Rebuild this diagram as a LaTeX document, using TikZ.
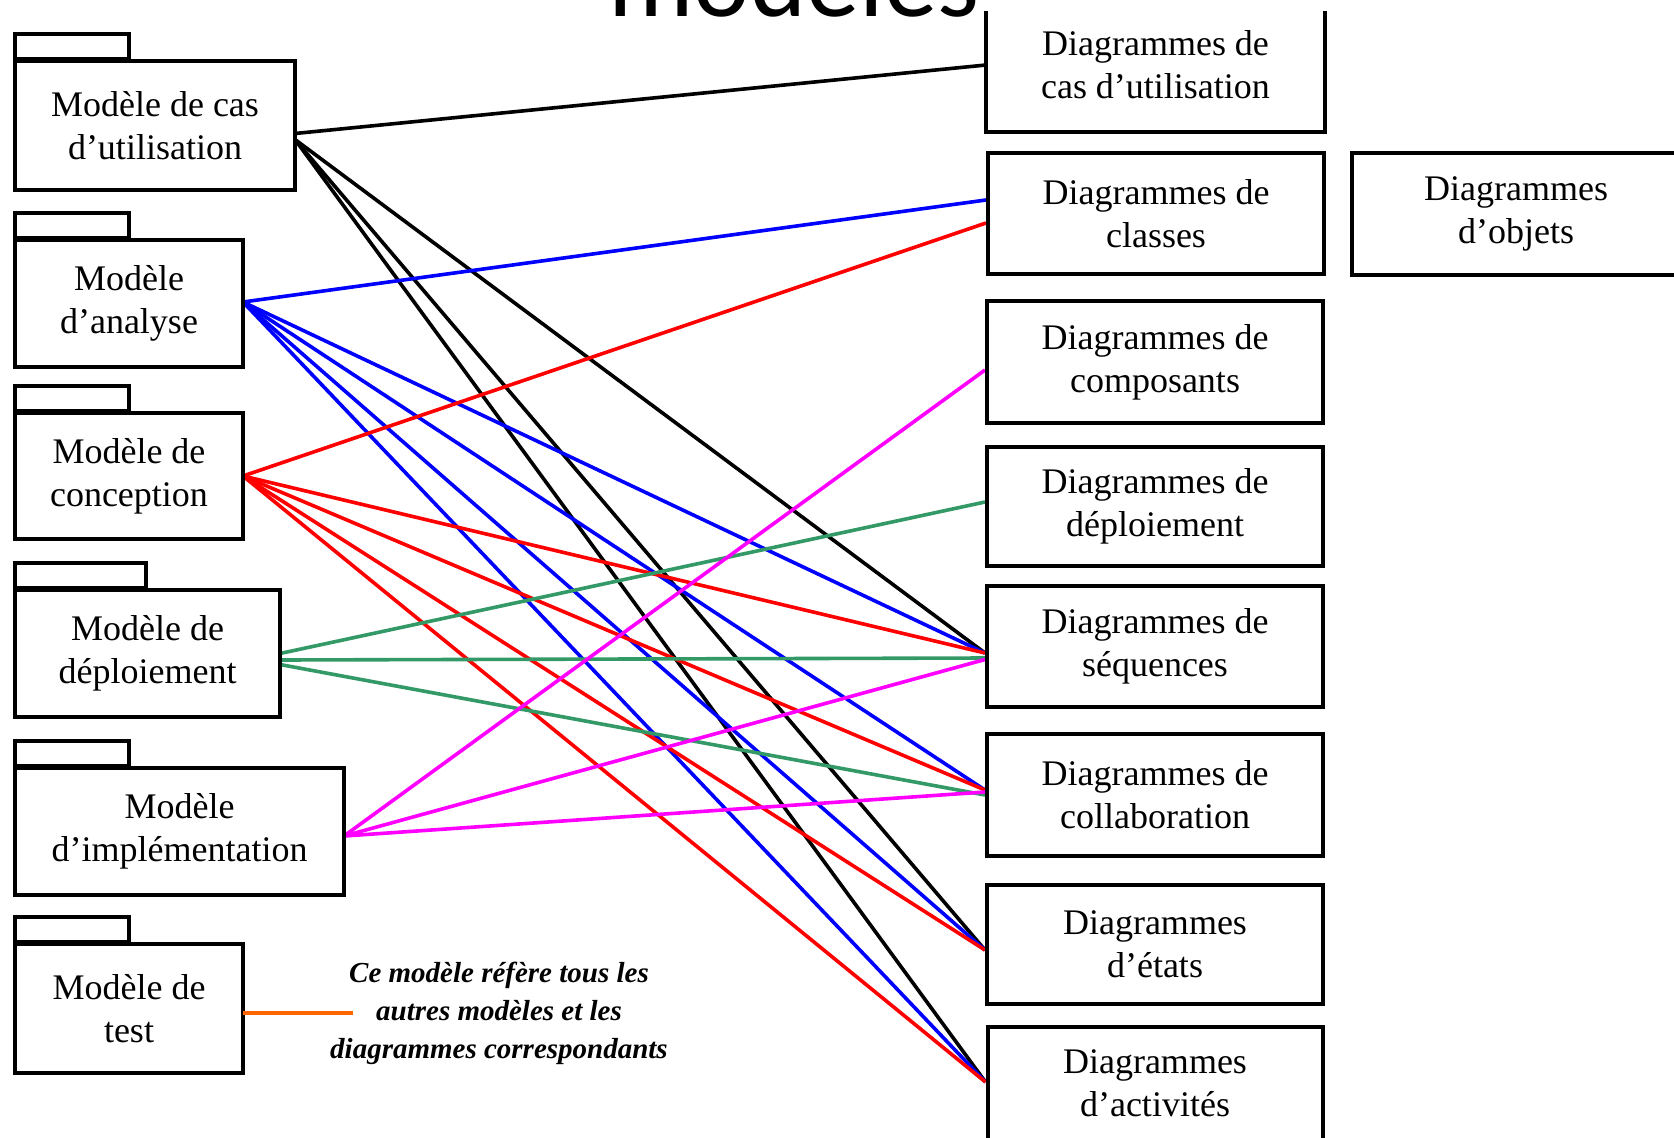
\documentclass[tikz,border=0pt]{standalone}
\usepackage{fontspec}
\setmainfont{Liberation Serif}
\newfontfamily\titlefont{Carlito}
\definecolor{lnblue}{RGB}{0,0,255}
\definecolor{lnred}{RGB}{255,0,0}
\definecolor{lngreen}{RGB}{51,153,102}
\definecolor{lnmag}{RGB}{255,0,255}
\definecolor{lnorange}{RGB}{255,102,0}
\begin{document}
\begin{tikzpicture}[x=1pt,y=-1pt,
  boxtext/.style={font=\fontsize{36}{43}\selectfont, align=center, inner sep=0pt},
  pkg/.style={boxtext, draw, line width=4pt, fill=white},
  diagbox/.style={boxtext, draw, line width=4pt, fill=white, minimum width=336pt},
  tab/.style={draw, line width=4pt, fill=white},
  lk/.style={line width=3.6pt},
  bk/.style={lk, black},
  bl/.style={lk, lnblue},
  rd/.style={lk, lnred},
  gn/.style={lk, lngreen},
  mg/.style={lk, lnmag},
  og/.style={line width=4pt, lnorange},
  note/.style={font=\bfseries\itshape\fontsize{29}{38}\selectfont, align=center, inner sep=0pt}]

\useasboundingbox (0,0) rectangle (1674,1138);
\clip (0,0) rectangle (1674,1138);
\fill[white] (0,0) rectangle (1674,1138);

% title, partly above the page edge
\node[font=\titlefont\fontsize{107}{107}\selectfont, anchor=base west, inner sep=0pt] (title) at (608,16) {modèles};

% model packages (positions only; drawn after the links)
\path
  (155,125.5)  node[pkg, minimum width=276pt, minimum height=125pt, opacity=0] (m1) {}
  (129,303.5)  node[pkg, minimum width=224pt, minimum height=123pt, opacity=0] (m2) {}
  (129,476)    node[pkg, minimum width=224pt, minimum height=122pt, opacity=0] (m3) {}
  (147.5,653.5) node[pkg, minimum width=261pt, minimum height=123pt, opacity=0] (m4) {}
  (179.5,831.5) node[pkg, minimum width=325pt, minimum height=123pt, opacity=0] (m5) {}
  (129,1008.5) node[pkg, minimum width=224pt, minimum height=125pt, opacity=0] (m6) {};

% diagram boxes (positions only)
\path
  (1155.5,65)  node[diagbox, minimum width=335pt, minimum height=130pt, opacity=0] (dcu) {}
  (1156,213.5) node[diagbox, minimum height=121pt, opacity=0] (dcl) {}
  (1155,362)   node[diagbox, minimum height=122pt, opacity=0] (dco) {}
  (1155,506.5) node[diagbox, minimum height=119pt, opacity=0] (ddp) {}
  (1155,646.5) node[diagbox, minimum height=121pt, opacity=0] (dsq) {}
  (1155,795)   node[diagbox, minimum height=122pt, opacity=0] (dcb) {}
  (1155,944.5) node[diagbox, minimum height=119pt, opacity=0] (det) {}
  (1155,1083.5) node[diagbox, minimum width=335pt, minimum height=113pt, opacity=0] (dac) {};

% links from the use case model
\draw[bk] ([yshift=-8pt]m1.east) -- (dcu.west);
\draw[bk] ([yshift=-14pt]m1.east) -- ([yshift=-6.5pt]dsq.west);
\draw[bk] ([yshift=-14pt]m1.east) -- ([yshift=-5.5pt]det.west);
\draw[bk] ([yshift=-14pt]m1.east) -- ([yshift=1.5pt]dac.west);

% links from the analysis model
\draw[bl] ([yshift=1.5pt]m2.east) -- ([yshift=13.5pt]dcl.west);
\draw[bl] ([yshift=1.5pt]m2.east) -- ([yshift=-6.5pt]dsq.west);
\draw[bl] ([yshift=1.5pt]m2.east) -- ([yshift=5pt]dcb.west);
\draw[bl] ([yshift=1.5pt]m2.east) -- ([yshift=-5.5pt]det.west);
\draw[bl] ([yshift=1.5pt]m2.east) -- ([yshift=1.5pt]dac.west);

% links from the design model
\draw[rd] (m3.east) -- ([yshift=-9.5pt]dcl.west);
\draw[rd] (m3.east) -- ([yshift=-6.5pt]dsq.west);
\draw[rd] (m3.east) -- ([yshift=5pt]dcb.west);
\draw[rd] (m3.east) -- ([yshift=-5.5pt]det.west);
\draw[rd] (m3.east) -- ([yshift=1.5pt]dac.west);

% links from the deployment model
\draw[gn] (m4.east) -- ([yshift=4.5pt]ddp.west);
\draw[gn] ([yshift=-6.5pt]m4.east) -- ([yshift=-11.5pt]dsq.west);
\draw[gn] ([yshift=-11pt]m4.east) -- (dcb.west);

% links from the implementation model
\draw[mg] ([yshift=-4.5pt]m5.east) -- ([yshift=-8pt]dco.west);
\draw[mg] ([yshift=-4.5pt]m5.east) -- ([yshift=-13pt]dsq.west);
\draw[mg] ([yshift=-4.5pt]m5.east) -- ([yshift=3pt]dcb.west);

% model packages: tab + body
\foreach \m/\w/\txt in {
  m1/114/{Modèle de cas\\d’utilisation},
  m2/114/{Modèle\\d’analyse},
  m3/114/{Modèle de\\conception},
  m4/131/{Modèle de\\déploiement},
  m5/114/{Modèle\\d’implémentation},
  m6/114/{Modèle de\\test}}{
  \draw[tab] ([yshift=2pt]\m.north west) rectangle ++(\w,-25);
  \draw[line width=4pt, fill=white] (\m.north west) rectangle (\m.south east);
  \node[boxtext] at (\m.center) {\txt};
}

% diagram boxes
\node[diagbox, minimum height=121pt] at (dcl) {Diagrammes de\\classes};
\node[diagbox, minimum width=328pt, minimum height=122pt] (dob) at (1516,214) {Diagrammes\\d’objets};
\node[diagbox, minimum height=122pt] at (dco) {Diagrammes de\\composants};
\node[diagbox, minimum height=119pt] at (ddp) {Diagrammes de\\déploiement};
\node[diagbox, minimum height=121pt] at (dsq) {Diagrammes de\\séquences};
\node[diagbox, minimum height=122pt] at (dcb) {Diagrammes de\\collaboration};
\node[diagbox, minimum height=119pt] at (det) {Diagrammes\\d’états};
\node[diagbox, minimum width=335pt, minimum height=113pt] at (dac) {Diagrammes\\d’activités};

% open-topped box for use case diagrams
\coordinate (cutop) at (0,11);
\node[boxtext] at (dcu.center) {Diagrammes de\\cas d’utilisation};
\draw[line width=4pt] (dcu.south west |- cutop) -- (dcu.south west) -- (dcu.south east) -- (dcu.south east |- cutop);

% test model note
\coordinate (noteend) at (353,1013);
\draw[og] ([yshift=-4.5pt]m6.east) -- (noteend);
\node[note] (remark) at (499,1013.5) {Ce modèle réfère tous les\\autres modèles et les\\diagrammes correspondants};
\end{tikzpicture}
\end{document}
